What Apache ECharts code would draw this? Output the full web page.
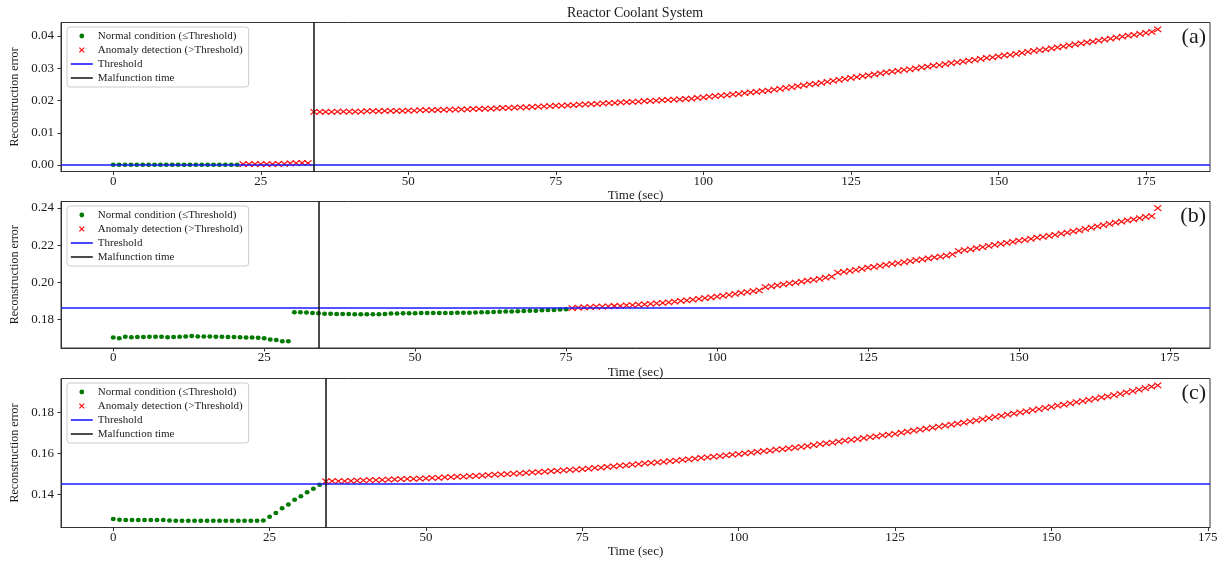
<!DOCTYPE html>
<html><head><meta charset="utf-8">
<script src="https://cdn.jsdelivr.net/npm/echarts@6/dist/echarts.min.js"></script>
<style>html,body{margin:0;padding:0;background:#fff}#c{width:1225px;height:563px}</style>
</head><body><div id="c"></div>
<script>
// ---------------- data ----------------
const chartTitle = 'Reactor Coolant System';
const panelLabels = ['(a)', '(b)', '(c)'];
const seriesNames = ['Normal condition (≤Threshold)', 'Anomaly detection (>Threshold)', 'Threshold', 'Malfunction time'];
const xAxisName = 'Time (sec)';
const yAxisName = 'Reconstruction error';
const xTicks = [0, 25, 50, 75, 100, 125, 150, 175];
const yTicksA = [0.00, 0.01, 0.02, 0.03, 0.04];
const yTicksB = [0.18, 0.20, 0.22, 0.24];
const yTicksC = [0.14, 0.16, 0.18];
const thresholdA = 0.0002;
const thresholdB = 0.1861;
const thresholdC = 0.1451;
const malfunctionTimeA = 34;
const malfunctionTimeB = 34;
const malfunctionTimeC = 34;

// reconstruction error, one value per second starting at t = 0
const errorA = [
0.0001,0.0001,0.0001,0.0001,0.0001,0.0001,0.0001,0.0001,0.0001,0.0001,0.0001,
0.0001,0.0001,0.0001,0.0001,0.0001,0.0001,0.0001,0.0001,0.0001,0.0001,0.0001,
0.0003,0.0003,0.0003,0.0003,0.0003,0.0003,0.0004,0.0004,0.0005,0.0006,0.0007,0.0006,
0.0165,0.0165,0.0165,0.0165,0.0166,0.0166,0.0166,
0.0166,0.0166,0.0167,0.0167,0.0167,0.0168,0.0168,0.0168,0.0168,0.0169,
0.0169,0.0170,0.0170,0.0170,0.0171,0.0171,0.0172,0.0172,0.0173,0.0173,
0.0174,0.0174,0.0175,0.0175,0.0176,0.0177,0.0177,0.0178,0.0179,0.0179,
0.0180,0.0181,0.0182,0.0183,0.0184,0.0184,0.0185,0.0186,0.0187,0.0188,
0.0189,0.0190,0.0191,0.0192,0.0193,0.0194,0.0195,0.0196,0.0197,0.0198,
0.0199,0.0200,0.0201,0.0202,0.0203,0.0204,0.0205,0.0206,0.0208,0.0210,
0.0212,0.0214,0.0215,0.0217,0.0219,0.0221,0.0223,0.0225,0.0227,0.0229,
0.0231,0.0234,0.0236,0.0239,0.0242,0.0245,0.0247,0.0250,0.0252,0.0255,
0.0258,0.0261,0.0264,0.0267,0.0270,0.0273,0.0276,0.0278,0.0281,0.0284,
0.0287,0.0290,0.0292,0.0295,0.0297,0.0300,0.0303,0.0305,0.0308,0.0310,
0.0313,0.0316,0.0318,0.0321,0.0324,0.0326,0.0329,0.0332,0.0334,0.0337,
0.0340,0.0342,0.0345,0.0348,0.0351,0.0354,0.0356,0.0359,0.0362,0.0365,
0.0368,0.0371,0.0374,0.0377,0.0380,0.0383,0.0386,0.0389,0.0392,0.0395,
0.0398,0.0401,0.0404,0.0407,0.0410,0.0413,0.0421
];
const errorB = [
0.1704,0.1699,0.1708,0.1705,0.1706,0.1707,0.1708,0.1708,0.1708,0.1705,
0.1706,0.1708,0.1709,0.1712,0.1709,0.1709,0.1709,0.1708,0.1708,0.1707,
0.1707,0.1705,0.1704,0.1703,0.1702,0.1699,0.1693,0.1690,0.1684,0.1683,
0.1840,0.1839,0.1838,0.1836,0.1834,0.1832,0.1831,0.1830,0.1830,0.1830,
0.1829,0.1829,0.1829,0.1829,0.1829,0.1830,0.1833,0.1833,0.1834,0.1834,
0.1834,0.1835,0.1835,0.1835,0.1836,0.1836,0.1836,0.1837,0.1837,0.1837,
0.1838,0.1839,0.1840,0.1841,0.1842,0.1843,0.1844,0.1845,0.1846,0.1847,
0.1848,0.1850,0.1851,0.1852,0.1854,0.1856,
0.1862,0.1864,0.1865,0.1867,0.1869,0.1870,0.1871,0.1873,0.1874,0.1876,
0.1878,0.1880,0.1882,0.1884,0.1887,0.1890,0.1893,0.1896,0.1900,0.1903,
0.1907,0.1911,0.1915,0.1919,0.1923,0.1928,0.1933,0.1938,0.1943,0.1948,
0.1953,0.1957,0.1975,0.1979,0.1984,0.1989,0.1994,0.1999,0.2004,0.2009,
0.2014,0.2019,0.2025,0.2031,0.2052,0.2057,0.2062,0.2067,0.2073,0.2079,
0.2084,0.2089,0.2094,0.2099,0.2104,0.2109,0.2114,0.2119,0.2124,0.2129,
0.2134,0.2139,0.2144,0.2150,0.2168,0.2173,0.2178,0.2184,0.2190,0.2196,
0.2201,0.2207,0.2212,0.2218,0.2224,0.2229,0.2234,0.2240,0.2245,0.2250,
0.2256,0.2262,0.2268,0.2274,0.2280,0.2287,0.2294,0.2301,0.2308,0.2315,
0.2321,0.2327,0.2333,0.2339,0.2345,0.2352,0.2356,0.2399
];
const errorC = [
0.1281,0.1277,0.1275,0.1275,0.1275,0.1275,0.1275,0.1275,0.1275,0.1273,
0.1272,0.1272,0.1272,0.1272,0.1272,0.1272,0.1272,0.1272,0.1272,0.1272,
0.1272,0.1272,0.1272,0.1272,0.1273,
0.1292,0.1310,0.1333,0.1351,0.1374,0.1392,0.1411,0.1428,0.1448,
0.1464,0.1465,0.1466,0.1466,0.1467,0.1468,0.1469,
0.1470,0.1471,0.1472,0.1473,0.1474,0.1475,0.1476,0.1477,0.1478,0.1479,
0.1481,0.1482,0.1484,0.1485,0.1487,0.1488,0.1490,0.1491,0.1493,0.1495,
0.1497,0.1499,0.1500,0.1502,0.1504,0.1506,0.1508,0.1510,0.1512,0.1514,0.1516,0.1518,0.1520,0.1522,0.1524,
0.1527,0.1530,0.1532,0.1535,0.1538,0.1541,0.1543,0.1546,0.1549,0.1552,0.1555,0.1557,0.1560,0.1563,0.1566,
0.1569,0.1572,0.1576,0.1579,0.1582,0.1585,0.1588,0.1591,0.1595,0.1598,
0.1601,0.1605,0.1608,0.1612,0.1615,0.1619,0.1622,0.1626,0.1629,0.1633,
0.1637,0.1641,0.1646,0.1650,0.1654,0.1659,0.1663,0.1667,0.1671,0.1676,0.1680,0.1684,0.1689,0.1693,0.1697,
0.1702,0.1707,0.1712,0.1717,0.1722,0.1727,0.1732,0.1737,0.1742,0.1747,0.1752,0.1757,
0.1763,0.1768,0.1774,0.1779,0.1785,0.1790,0.1796,0.1801,0.1807,0.1812,0.1818,0.1823,0.1829,
0.1835,0.1840,0.1846,0.1852,0.1857,0.1863,0.1869,0.1875,0.1880,0.1886,
0.1892,0.1899,0.1906,0.1913,0.1920,0.1927,0.1934
];

// ---------------- layout / style ----------------
const SERIF = '"Liberation Serif", "DejaVu Serif", serif';
const TXT = '#1a1a1a';
const FRAME = '#333333';
const X_PATH = 'path://M0,0L7,5M7,0L0,5';
const gridLeft = 61, gridRight = 15;
const layout = [
  { top: 22.5, height: 149 },
  { top: 201.5, height: 146.5 },
  { top: 378.5, height: 149 }
];
const panels = [
  { err: errorA, thr: thresholdA, mal: malfunctionTimeA, yTicks: yTicksA },
  { err: errorB, thr: thresholdB, mal: malfunctionTimeB, yTicks: yTicksB },
  { err: errorC, thr: thresholdC, mal: malfunctionTimeC, yTicks: yTicksC }
];

const grid = [], xAxis = [], yAxis = [], series = [], legend = [];
const title = [{
  text: chartTitle, left: 567, top: 6, padding: 0,
  textStyle: { fontFamily: SERIF, fontSize: 14, fontWeight: 'normal', color: TXT }
}];

panels.forEach((p, i) => {
  const L = layout[i];
  const n = p.err.length;
  const times = p.err.map((_, k) => k);
  const normal = [], anomaly = [];
  p.err.forEach((v, k) => { (v <= p.thr ? normal : anomaly).push([times[k], v]); });
  const lo = Math.min(...p.err, p.thr), hi = Math.max(...p.err, p.thr);
  const span = hi - lo;
  const xSpan = times[n - 1] - times[0];

  grid.push({ left: gridLeft, right: gridRight, top: L.top, height: L.height,
    show: true, borderColor: FRAME, borderWidth: 1, backgroundColor: 'transparent' });

  xAxis.push({
    type: 'value', gridIndex: i,
    min: times[0] - 0.05 * xSpan, max: times[n - 1] + 0.05 * xSpan,
    name: xAxisName, nameLocation: 'middle', nameGap: 18,
    nameTextStyle: { fontFamily: SERIF, fontSize: 13, color: TXT },
    axisLine: { show: true, onZero: false, lineStyle: { color: FRAME, width: 1 } },
    axisTick: { show: true, length: 3.5, lineStyle: { color: FRAME, width: 1 }, customValues: xTicks },
    axisLabel: { customValues: xTicks, margin: 3.5, fontFamily: SERIF, fontSize: 13, color: TXT },
    splitLine: { show: false }
  });
  yAxis.push({
    type: 'value', gridIndex: i,
    min: lo - 0.05 * span, max: hi + 0.05 * span,
    name: yAxisName, nameLocation: 'middle', nameGap: 37, nameRotate: 90,
    nameTextStyle: { fontFamily: SERIF, fontSize: 12, color: TXT },
    axisLine: { show: true, onZero: false, lineStyle: { color: FRAME, width: 1 } },
    axisTick: { show: true, length: 3.5, lineStyle: { color: FRAME, width: 1 }, customValues: p.yTicks },
    axisLabel: { customValues: p.yTicks, margin: 7, fontFamily: SERIF, fontSize: 13, color: TXT,
      formatter: v => v.toFixed(2) },
    splitLine: { show: false }
  });

  series.push({
    name: seriesNames[0], type: 'line', xAxisIndex: i, yAxisIndex: i, data: normal,
    symbol: 'circle', symbolSize: [5, 4.5], showSymbol: true, showAllSymbol: true,
    lineStyle: { width: 0, opacity: 0 }, itemStyle: { color: '#007a00', borderWidth: 0 },
    silent: true, z: 2
  });
  series.push({
    name: seriesNames[1], type: 'line', xAxisIndex: i, yAxisIndex: i, data: anomaly,
    symbol: X_PATH, symbolSize: [7, 5.5], showSymbol: true, showAllSymbol: true,
    lineStyle: { width: 0, opacity: 0 },
    itemStyle: { color: '#ff0000', borderColor: '#ff0a0a', borderWidth: 1.2 },
    silent: true, z: 2
  });
  series.push({
    name: seriesNames[2], type: 'line', xAxisIndex: i, yAxisIndex: i, data: [],
    symbol: 'none', lineStyle: { color: '#1a1aff', width: 1.6 }, itemStyle: { color: '#1a1aff' },
    silent: true, z: 3,
    markLine: { silent: true, precision: 8, symbol: ['none', 'none'], label: { show: false }, animation: false,
      lineStyle: { color: '#1a1aff', width: 1.6, type: 'solid' }, data: [{ yAxis: p.thr }] }
  });
  series.push({
    name: seriesNames[3], type: 'line', xAxisIndex: i, yAxisIndex: i, data: [],
    symbol: 'none', lineStyle: { color: '#111111', width: 1.5 }, itemStyle: { color: '#111111' },
    silent: true, z: 3,
    markLine: { silent: true, precision: 8, symbol: ['none', 'none'], label: { show: false }, animation: false,
      lineStyle: { color: '#111111', width: 1.5, type: 'solid' }, data: [{ xAxis: p.mal }] }
  });

  legend.push({
    orient: 'vertical', left: 67, top: L.top + 4.5,
    padding: [3, 6, 3, 3], itemGap: 2, itemWidth: 22, itemHeight: 6,
    backgroundColor: 'rgba(255,255,255,0.85)', borderColor: '#cccccc', borderWidth: 1, borderRadius: 3,
    selectedMode: false,
    textStyle: { fontFamily: SERIF, fontSize: 11, color: TXT, lineHeight: 12 },
    data: [
      { name: seriesNames[0], itemStyle: { borderWidth: 0 }, lineStyle: { width: 0, opacity: 0 } },
      { name: seriesNames[1], itemStyle: { borderWidth: 1.2 }, lineStyle: { width: 0, opacity: 0 } },
      { name: seriesNames[2], itemStyle: { opacity: 0 }, lineStyle: { width: 1.6 } },
      { name: seriesNames[3], itemStyle: { opacity: 0 }, lineStyle: { width: 1.5 } }
    ]
  });

  title.push({
    text: panelLabels[i], right: 19, top: L.top + 4, padding: 0,
    textStyle: { fontFamily: SERIF, fontSize: 22, fontWeight: 'normal', color: TXT }
  });
});

const chart = echarts.init(document.getElementById('c'), null, { renderer: 'canvas' });
chart.setOption({
  animation: false,
  backgroundColor: '#ffffff',
  title, legend, grid, xAxis, yAxis, series
});
</script></body></html>
